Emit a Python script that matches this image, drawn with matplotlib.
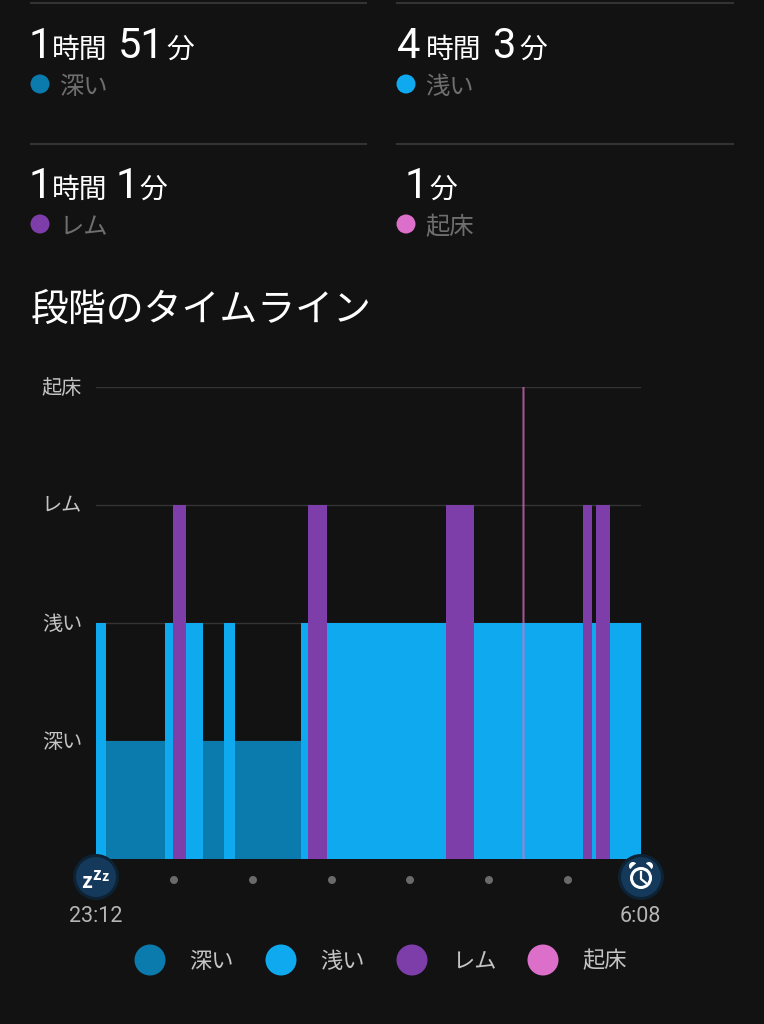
import matplotlib
matplotlib.use('Agg')
import matplotlib.pyplot as plt
from matplotlib.patches import Circle, Wedge
from matplotlib.transforms import ScaledTranslation

plt.rcParams['font.family'] = ['Noto Sans CJK JP', 'DejaVu Sans']

BG = '#121212'
GRID = '#333333'

# sleep stages, minutes after 23:12
stage_names = ['深い', '浅い', 'レム', '起床']
stage_levels = [1, 2, 3, 4]
stage_colors = ['#0a7bac', '#0fa9ef', '#7d3eaa', '#dc6fc9']
seg_start = [0, 7.6, 52.7, 58.8, 68.7, 81.7, 97.7, 106, 156.5, 161.8, 176.3, 267,
             288.5, 371.8, 378.6, 381.7, 392.4]
seg_end = [7.6, 52.7, 58.8, 68.7, 81.7, 97.7, 106, 156.5, 161.8, 176.3, 267, 288.5,
           371.8, 378.6, 381.7, 392.4, 416]
seg_stage = [2, 1, 2, 3, 2, 1, 2, 1, 2, 3, 2, 3, 2, 3, 2, 3, 2]
# the short wake is drawn over the light stage
wake_start = 325.5
wake_end = 327.1

# summary blocks: hours, minutes
summary_hours = ['1', '4', '1', None]
summary_minutes = ['51', '3', '1', '1']
summary_labels = ['深い', '浅い', 'レム', '起床']

start_label = '23:12'
end_label = '6:08'
title = '段階のタイムライン'

W, H = 764, 1024
fig = plt.figure(figsize=(W / 100, H / 100), dpi=100, facecolor=BG)

# chart axes
ax = fig.add_axes([96 / W, 1 - 859 / H, 545 / W, 472 / H], facecolor=BG)
for i in range(len(seg_start)):
    s = seg_stage[i] - 1
    ax.bar(seg_start[i], stage_levels[s], seg_end[i] - seg_start[i], align='edge',
           color=stage_colors[s], linewidth=0, zorder=3)
wake = ax.bar(wake_start, stage_levels[3], wake_end - wake_start, align='edge',
              color=stage_colors[3], alpha=0.7, linewidth=0, zorder=4)
wake[0].set_snap(False)
ax.set_xlim(0, 416)
ax.set_ylim(0, 4)
ax.set_xticks([])
ax.set_yticks(stage_levels)
ax.set_yticklabels(stage_names, color='#c4c4c4', fontsize=14.5)
ax.tick_params(axis='y', length=0, pad=10)
up = ScaledTranslation(0, 1.2 / 100, fig.dpi_scale_trans)
for lab in ax.get_yticklabels():
    lab.set_transform(lab.get_transform() + up)
ax.grid(axis='y', color=GRID, linewidth=1, zorder=1)
ax.set_axisbelow(True)
for sp in ax.spines.values():
    sp.set_visible(False)

# overlay in pixel coordinates for everything round the chart
ov = fig.add_axes([0, 0, 1, 1], facecolor='none')
ov.set_xlim(0, W)
ov.set_ylim(H, 0)
ov.axis('off')

# separators
for y in [3, 144]:
    ov.plot([31, 366], [y, y], color=GRID, lw=1.5)
    ov.plot([397, 733], [y, y], color=GRID, lw=1.5)


def big(x, y, s):
    ov.text(x, y, s, color='white', fontsize=30, family='Roboto',
            va='baseline', ha='left')


def small(x, y, s):
    ov.text(x, y, s, color='white', fontsize=20, va='baseline', ha='left')


# positions of the parts of each summary block
hour_x = [29, 397, 29, None]
unit_x = [52, 426, 52, None]
min_x = [118, 492, 116, 405]
fun_x = [166, 519, 139, 429]
base_y = [58, 58, 198, 198]
dot_x = [40, 406, 40, 406]
dot_y = [84, 84, 224, 224]
label_x = [59, 425, 60, 425]
label_y = [87, 87, 227, 227]

for i in range(4):
    if summary_hours[i] is not None:
        big(hour_x[i], base_y[i], summary_hours[i])
        small(unit_x[i], base_y[i], '時間')
    big(min_x[i], base_y[i], summary_minutes[i])
    small(fun_x[i], base_y[i], '分')
    ov.add_patch(Circle((dot_x[i], dot_y[i]), 9.5, color=stage_colors[i], lw=0))
    ov.text(label_x[i], label_y[i], summary_labels[i], color='#6f6f6f', fontsize=17.5,
            va='center', ha='left')

ov.text(31, 310, title, color='white', fontsize=27.3, va='center', ha='left')

# time axis dots
for x in [174, 253, 332, 410, 489, 568]:
    ov.add_patch(Circle((x, 880), 4, color='#6a6a6a', lw=0))

# start and end badges
for x in [96, 641]:
    ov.add_patch(Circle((x, 877), 23, color='#0d2233', lw=0, zorder=5))
    ov.add_patch(Circle((x, 877), 20, color='#15395a', lw=0, zorder=6))

ov.text(87, 881, 'z', color='white', fontsize=15, weight='bold', ha='center', va='center', zorder=7)
ov.text(97, 875, 'z', color='white', fontsize=12, weight='bold', ha='center', va='center', zorder=7)
ov.text(105, 877, 'z', color='white', fontsize=10, weight='bold', ha='center', va='center', zorder=7)

# alarm clock
ov.add_patch(Circle((641, 878), 9.5, fc='none', ec='white', lw=2.2, zorder=7))
ov.plot([641, 641, 646], [872, 879, 883], color='white', lw=1.6, zorder=7)
ov.add_patch(Wedge((633, 866), 4, 130, 320, color='white', lw=0, zorder=7))
ov.add_patch(Wedge((649, 866), 4, 220, 50, color='white', lw=0, zorder=7))

ov.text(96, 917, start_label, color='#b5b5b5', fontsize=15.5, family='Roboto',
        ha='center', va='center')
ov.text(640, 917, end_label, color='#b5b5b5', fontsize=15.5, family='Roboto',
        ha='center', va='center')

# legend
legend_x = [150, 281, 412, 543]
legend_tx = [189, 320, 452, 582]
for i in range(4):
    ov.add_patch(Circle((legend_x[i], 960), 15.5, color=stage_colors[i], lw=0))
    ov.text(legend_tx[i], 961, stage_names[i], color='#c4c4c4', fontsize=16,
            ha='left', va='center')

fig.savefig('out.png', dpi=100, facecolor=BG)
